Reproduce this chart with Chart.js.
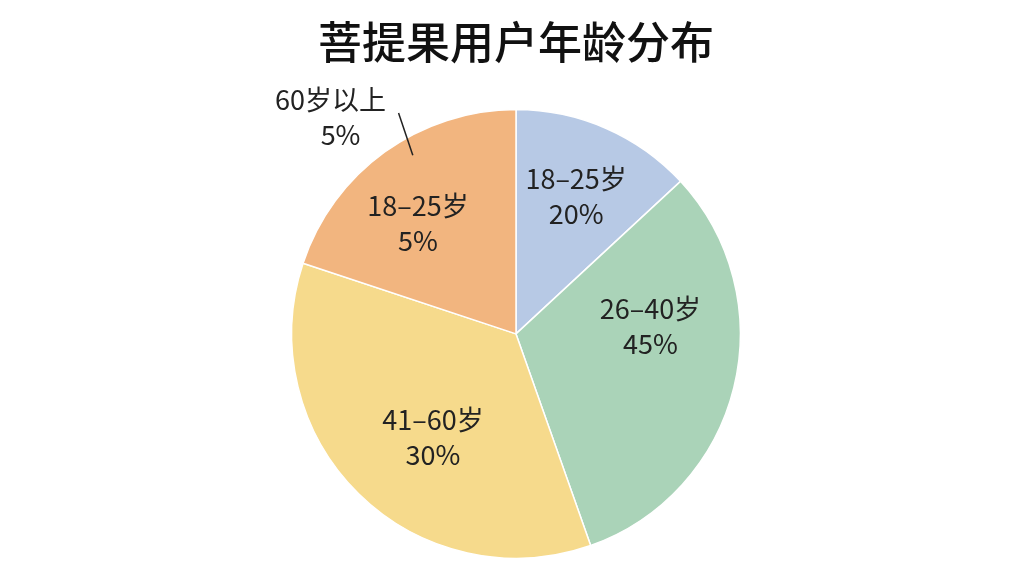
<!DOCTYPE html>
<html>
<head>
<meta charset="utf-8">
<script src="https://cdn.jsdelivr.net/npm/chart.js@4/dist/chart.umd.min.js"></script>
<style>
html,body{margin:0;padding:0;background:#fff;}
#wrap{width:1024px;height:576px;}
</style>
</head>
<body>
<div id="wrap"><canvas id="c" width="1024" height="576"></canvas></div>
<script>
// Data
const categories = ['18–25岁', '26–40岁', '41–60岁', '18–25岁'];
const labelPercents = ['20%', '45%', '30%', '5%'];
const sliceValues = [13.1, 31.5, 35.5, 19.9];   // measured slice sizes (share of the circle)
const outsideNoteLines = ['60岁以上', '5%'];   // callout pointing at the last slice
const titleText = '菩提果用户年龄分布';

// Styles
const colors = ['#b7c9e5', '#aad3b8', '#f6da8c', '#f2b57f'];
const labelAngleShift = [0, -17, -5.6, -5.6];   // degrees
const labelRadiusFrac = [0.67, 0.60, 0.59, 0.66];
const FONT = '"Noto Sans CJK SC", "Noto Sans", sans-serif';

const labelPlugin = {
  id: 'sliceLabels',
  afterDatasetsDraw(chart) {
    const ctx = chart.ctx;
    const meta = chart.getDatasetMeta(0);
    ctx.save();
    ctx.font = '27px ' + FONT;
    ctx.fillStyle = '#222';
    ctx.textAlign = 'center';
    ctx.textBaseline = 'middle';
    meta.data.forEach((arc, i) => {
      const p = arc.getProps(['x','y','startAngle','endAngle','outerRadius'], true);
      const mid = (p.startAngle + p.endAngle) / 2 + labelAngleShift[i] * Math.PI / 180;
      const r = p.outerRadius * labelRadiusFrac[i];
      const x = p.x + Math.cos(mid) * r;
      const y = p.y + Math.sin(mid) * r;
      ctx.fillText(categories[i], x, y - 17.5);
      ctx.fillText(labelPercents[i], x, y + 17.5);
    });
    // callout on last slice
    const last = meta.data[meta.data.length - 1];
    const q = last.getProps(['x','y','outerRadius'], true);
    const a1 = (330 - 90) * Math.PI / 180;
    const a2 = (332 - 90) * Math.PI / 180;
    const x1 = q.x + Math.cos(a1) * q.outerRadius * 0.92;
    const y1 = q.y + Math.sin(a1) * q.outerRadius * 0.92;
    const x2 = q.x + Math.cos(a2) * q.outerRadius * 1.115;
    const y2 = q.y + Math.sin(a2) * q.outerRadius * 1.115;
    ctx.strokeStyle = '#222';
    ctx.lineWidth = 1.5;
    ctx.beginPath();
    ctx.moveTo(x1, y1);
    ctx.lineTo(x2, y2);
    ctx.stroke();
    ctx.fillText(outsideNoteLines[0], x2 - 68, y2 - 13);
    ctx.fillText(outsideNoteLines[1], x2 - 58, y2 + 22);
    ctx.restore();
  }
};

new Chart(document.getElementById('c'), {
  type: 'pie',
  data: {
    labels: categories,
    datasets: [{
      data: sliceValues,
      backgroundColor: colors,
      borderColor: '#ffffff',
      borderWidth: 1.5
    }]
  },
  options: {
    responsive: false,
    animation: false,
    layout: { padding: { top: 0, bottom: 17, left: 8, right: 0 } },
    plugins: {
      legend: { display: false },
      tooltip: { enabled: false },
      title: {
        display: true,
        text: titleText,
        color: '#111',
        font: { family: FONT, size: 44, weight: 500 },
        padding: { top: 16, bottom: 40 }
      }
    }
  },
  plugins: [labelPlugin]
});
</script>
</body>
</html>
